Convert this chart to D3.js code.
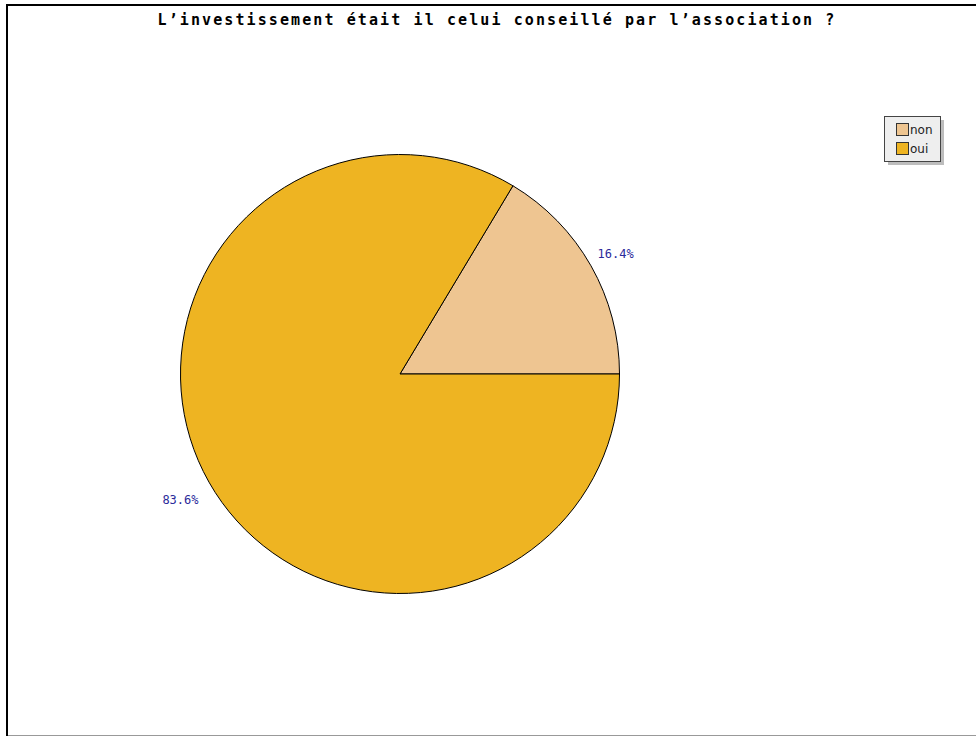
<!DOCTYPE html>
<html>
<head>
<meta charset="utf-8">
<script src="https://cdn.jsdelivr.net/npm/d3@7"></script>
<style>
  html, body { margin: 0; padding: 0; background: #fff; }
  svg { display: block; }
</style>
</head>
<body>
<svg id="chart" width="976" height="736"></svg>
<script>
// Survey answers and their shares (percent)
const categories = ["non", "oui"];
const values = [16.4, 83.6];
const colors = ["#EEC591", "#EEB422"];
const title = "L\u2019investissement était il celui conseillé par l\u2019association ?";

const svg = d3.select("#chart");
const W = 976, H = 736;

// outer frame (right and bottom edges run off the page)
svg.append("rect").attr("x", 7).attr("y", 5).attr("width", W + 10).attr("height", H + 10)
  .attr("fill", "#fff").attr("stroke", "#000").attr("stroke-width", 2);
svg.append("line").attr("x1", 8).attr("x2", W).attr("y1", 735.5).attr("y2", 735.5)
  .attr("stroke", "#999").attr("stroke-width", 1);

// title
svg.append("text")
  .attr("x", 497).attr("y", 25)
  .attr("text-anchor", "middle")
  .attr("font-family", "'DejaVu Sans Mono', monospace")
  .attr("font-weight", "bold")
  .attr("font-size", 15)
  .attr("letter-spacing", 2.1)
  .text(title);

// pie: first slice starts at 3 o'clock and runs counter-clockwise
const cx = 400, cy = 374, R = 219.5;
const pie = d3.pie().sort(null).value(d => d)
  .startAngle(Math.PI / 2).endAngle(Math.PI / 2 - 2 * Math.PI);
const arcs = pie(values);
const arc = d3.arc().innerRadius(0).outerRadius(R);

const g = svg.append("g").attr("transform", `translate(${cx},${cy})`);
g.selectAll("path.slice").data(arcs).enter().append("path")
  .attr("class", "slice")
  .attr("d", arc)
  .attr("fill", (d, i) => colors[i])
  .attr("stroke", "#000")
  .attr("stroke-width", 1)
  .attr("stroke-linejoin", "round");

// percentage labels outside the slices
const labelArc = d3.arc().innerRadius(250).outerRadius(250);
g.selectAll("text.pct").data(arcs).enter().append("text")
  .attr("class", "pct")
  .attr("transform", d => {
    const [x, y] = labelArc.centroid(d);
    return `translate(${x - 2},${y + 3})`;
  })
  .attr("dy", "0.35em")
  .attr("text-anchor", "middle")
  .attr("font-family", "'DejaVu Sans Mono', monospace")
  .attr("font-size", 12)
  .attr("fill", "#2a2a9a")
  .text(d => d.data.toFixed(1) + "%");

// legend with drop shadow
const lg = svg.append("g").attr("transform", "translate(884,116)");
lg.append("rect").attr("x", 4).attr("y", 4).attr("width", 56).attr("height", 45).attr("fill", "#bdbdbd");
lg.append("rect").attr("x", 0.5).attr("y", 0.5).attr("width", 56).attr("height", 45)
  .attr("fill", "#eeeeee").attr("stroke", "#444").attr("stroke-width", 1);
categories.forEach((c, i) => {
  const y = 7 + i * 19;
  lg.append("rect").attr("x", 12.5).attr("y", y + 0.5).attr("width", 12).attr("height", 12)
    .attr("fill", colors[i]).attr("stroke", "#333").attr("stroke-width", 1);
  lg.append("text").attr("x", 26).attr("y", y + 11)
    .attr("font-family", "'DejaVu Sans', sans-serif").attr("font-size", 12)
    .attr("fill", "#222").text(c);
});
</script>
</body>
</html>
